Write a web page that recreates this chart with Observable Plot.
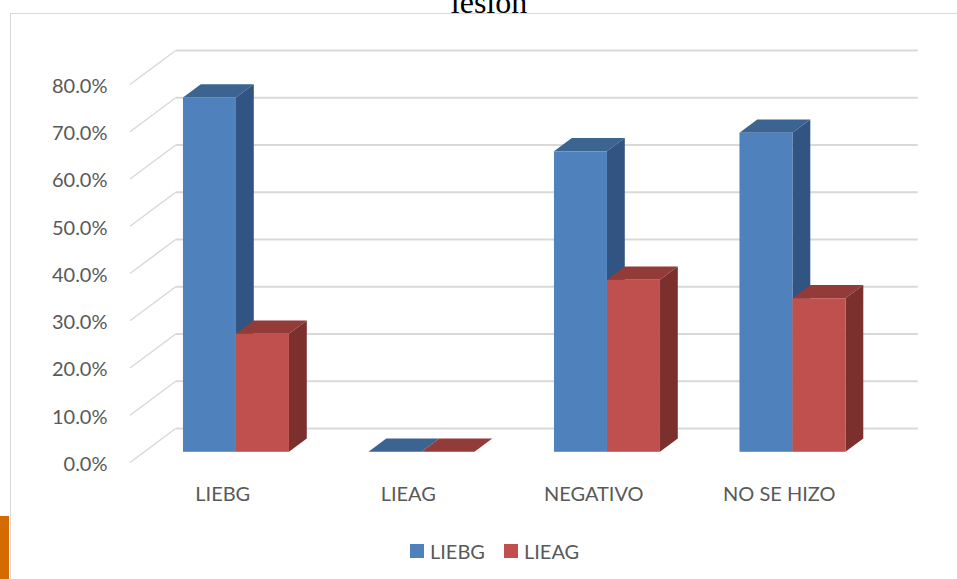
<!DOCTYPE html>
<html>
<head>
<meta charset="utf-8">
<script src="https://cdn.jsdelivr.net/npm/d3@7"></script>
<script src="https://cdn.jsdelivr.net/npm/@observablehq/plot@0.6"></script>
<style>
  html, body { margin: 0; padding: 0; background: #fff; }
  #page { position: relative; width: 957px; height: 579px; overflow: hidden; font-family: Lato, "Open Sans", sans-serif; }
  #title { position: absolute; left: 0; top: -14px; width: 978px; text-align: center;
           font-family: "Liberation Serif", "DejaVu Serif", serif; font-size: 32px; line-height: 32px; color: #000; }
  #frame { position: absolute; left: 10px; top: 13px; width: 1000px; height: 700px;
           border-left: 1px solid #d9d9d9; border-top: 1px solid #d9d9d9; }
  #tab { position: absolute; left: 0; top: 516px; width: 9px; height: 63px; background: #d46a00; }
  #chart { position: absolute; left: 0; top: 0; }
  #legend { position: absolute; left: 410px; top: 544px; display: flex; color: #595959; font-size: 20px; line-height: 14px; }
  #legend .item { display: flex; align-items: flex-start; margin-right: 19px; }
  #legend .sw { width: 14px; height: 14px; margin-right: 6px; }
</style>
</head>
<body>
<div id="page">
  <div id="title">lesion</div>
  <div id="frame"></div>
  <div id="tab"></div>
  <div id="chart"></div>
  <div id="legend"></div>
</div>
<script>
// Categories and the two series (percent of each group)
const categories = ["LIEBG", "LIEAG", "NEGATIVO", "NO SE HIZO"];
const seriesNames = ["LIEBG", "LIEAG"];
const liebgValues = [75.0, 0.0, 63.6, 67.5];
const lieagValues = [25.0, 0.0, 36.4, 32.5];
const yTicks = [0, 10, 20, 30, 40, 50, 60, 70, 80];

// Face colours: front, top, side
const palette = [
  {front: "#4f81bd", top: "#3c6491", side: "#325482"},
  {front: "#c0504d", top: "#933b39", side: "#7b302e"}
];

// 3-D projection of the floor depth, in x (category) units and y (percent) units
const DEPTH_X = 0.2464;
const DEPTH_Y = 7.2;
// bars sit between these fractions of the floor depth
const BAR_FRONT = 0.30;
const BAR_DEPTH = 0.39;
const BAR_W = 2 / 7;

const seriesValues = [liebgValues, lieagValues];
const fronts = [], sides = [], tops = [];
seriesValues.forEach((vals, s) => {
  vals.forEach((v, i) => {
    const id = s + "-" + i;
    const x0 = i - BAR_W + s * BAR_W + BAR_FRONT * DEPTH_X;
    const x1 = x0 + BAR_W;
    const y0 = BAR_FRONT * DEPTH_Y;
    const y1 = y0 + v;
    const bx = BAR_DEPTH * DEPTH_X, by = BAR_DEPTH * DEPTH_Y;
    fronts.push({s, x0, x1, y0, y1});
    sides.push({s, id, x: x1, lo: y0, hi: y1}, {s, id, x: x1 + bx, lo: y0 + by, hi: y1 + by});
    tops.push({s, id, y: y1, a: x0, b: x1}, {s, id, y: y1 + by, a: x0 + bx, b: x1 + bx});
  });
});

// back-wall gridlines and the diagonal left-wall edges
const walls = yTicks.map(t => ({t, back: t + DEPTH_Y}));
const left = -0.5, right = categories.length - 0.5;

const barMarks = [];
[0, 1].forEach(s => {
  barMarks.push(
    Plot.areaX(tops.filter(d => d.s === s), {y: "y", x1: "a", x2: "b", z: "id", fill: palette[s].top}),
    Plot.areaY(sides.filter(d => d.s === s), {x: "x", y1: "lo", y2: "hi", z: "id", fill: palette[s].side}),
    Plot.rect(fronts.filter(d => d.s === s), {x1: "x0", x2: "x1", y1: "y0", y2: "y1", fill: palette[s].front})
  );
});

const chart = Plot.plot({
  width: 957,
  height: 579,
  marginLeft: 129.5,
  marginRight: 85.5,
  marginTop: 84,
  marginBottom: 117,
  style: {background: "transparent", fontFamily: "Lato, sans-serif", fontSize: "20px", color: "#595959"},
  x: {type: "linear", domain: [left, right]},
  y: {domain: [0, 80]},
  marks: [
    Plot.link(walls, {x1: left, y1: "t", x2: left + DEPTH_X, y2: "back", stroke: "#d9d9d9", strokeWidth: 1.5}),
    Plot.link(walls, {x1: left + DEPTH_X, y1: "back", x2: right + DEPTH_X, y2: "back", stroke: "#d9d9d9", strokeWidth: 2}),
    ...barMarks,
    Plot.axisY({ticks: yTicks, tickSize: 0, tickPadding: 22.5, dy: 2, tickFormat: d => d.toFixed(1) + "%", label: null, fontSize: 20}),
    Plot.axisX({ticks: categories.map((_, i) => i), tickSize: 0, tickPadding: 24.5, tickFormat: i => categories[i], label: null, fontSize: 20})
  ]
});
document.getElementById("chart").appendChild(chart);

// legend
const legend = document.getElementById("legend");
seriesNames.forEach((name, s) => {
  const item = document.createElement("div");
  item.className = "item";
  const sw = document.createElement("div");
  sw.className = "sw";
  sw.style.background = palette[s].front;
  const label = document.createElement("span");
  label.textContent = name;
  item.append(sw, label);
  legend.appendChild(item);
});
</script>
</body>
</html>
